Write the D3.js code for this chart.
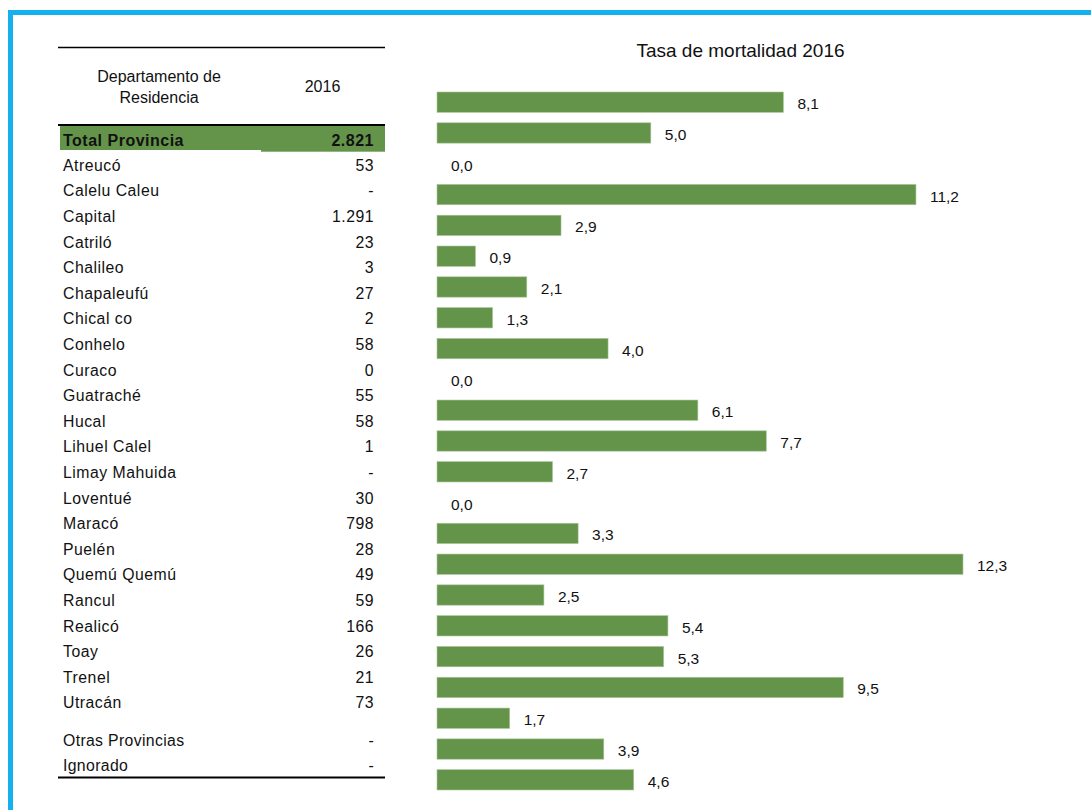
<!DOCTYPE html>
<html>
<head>
<meta charset="utf-8">
<script src="https://cdn.jsdelivr.net/npm/d3@7"></script>
<style>
  html, body { margin: 0; padding: 0; background: #ffffff; }
  svg { display: block; }
  text { font-family: "Liberation Sans", Arial, sans-serif; fill: #111; }
</style>
</head>
<body>
<svg id="chart" width="1091" height="810"></svg>
<script>
// Table rows: department of residence and deaths in 2016
const totalLabel = "Total Provincia";
const totalDeaths = "2.821";
const departments = [
  "Atreucó", "Calelu Caleu", "Capital", "Catriló", "Chalileo", "Chapaleufú",
  "Chical co", "Conhelo", "Curaco", "Guatraché", "Hucal", "Lihuel Calel",
  "Limay Mahuida", "Loventué", "Maracó", "Puelén", "Quemú Quemú", "Rancul",
  "Realicó", "Toay", "Trenel", "Utracán"
];
const deaths = [
  "53", "-", "1.291", "23", "3", "27", "2", "58", "0", "55", "58", "1",
  "-", "30", "798", "28", "49", "59", "166", "26", "21", "73"
];
const otherRows = ["Otras Provincias", "Ignorado"];
const otherDeaths = ["-", "-"];

// Mortality rate 2016, one bar per row (total first, then departments)
const rateCategories = [totalLabel].concat(departments);
const rates = [
  8.1, 5.0, 0.0, 11.2, 2.9, 0.9, 2.1, 1.3, 4.0, 0.0, 6.1, 7.7,
  2.7, 0.0, 3.3, 12.3, 2.5, 5.4, 5.3, 9.5, 1.7, 3.9, 4.6
];

const headerTitle = ["Departamento de", "Residencia"];
const headerYear = "2016";
const chartTitle = "Tasa de mortalidad 2016";

const svg = d3.select("#chart");
const green = "#64944a";
const fmt = v => d3.format(".1f")(v).replace(".", ",");

// Blue frame
svg.append("rect")
  .attr("x", 10.5).attr("y", 12.5)
  .attr("width", 1200).attr("height", 900)
  .attr("fill", "none")
  .attr("stroke", "#14b1ee")
  .attr("stroke-width", 5);

// ---------- Table ----------
const tableLeft = 58, tableRight = 385;
const nameX = 63, valueX = 374;
const table = svg.append("g");

table.append("line")
  .attr("x1", tableLeft).attr("x2", tableRight)
  .attr("y1", 47.5).attr("y2", 47.5)
  .attr("stroke", "#000").attr("stroke-width", 1.7);

table.append("text")
  .attr("x", 159).attr("y", 81.5)
  .attr("text-anchor", "middle")
  .style("font-size", "16px")
  .selectAll("tspan").data(headerTitle).join("tspan")
  .attr("x", 159)
  .attr("dy", (d, i) => i === 0 ? 0 : 21.7)
  .text(d => d);

table.append("text")
  .attr("x", 322.5).attr("y", 91.5)
  .attr("text-anchor", "middle")
  .style("font-size", "16px")
  .text(headerYear);

// Total row highlight
table.append("rect")
  .attr("x", 60).attr("y", 125)
  .attr("width", 201).attr("height", 25)
  .attr("fill", green);
table.append("rect")
  .attr("x", 261).attr("y", 125)
  .attr("width", tableRight - 261).attr("height", 26.7)
  .attr("fill", green);

table.append("line")
  .attr("x1", tableLeft).attr("x2", tableRight)
  .attr("y1", 125).attr("y2", 125)
  .attr("stroke", "#000").attr("stroke-width", 2);

table.append("text")
  .attr("x", nameX).attr("y", 146)
  .style("font-size", "16px").style("font-weight", "bold")
  .style("letter-spacing", "0.5px")
  .text(totalLabel);
table.append("text")
  .attr("x", valueX).attr("y", 146)
  .attr("text-anchor", "end")
  .style("font-size", "16px").style("font-weight", "bold")
  .style("letter-spacing", "0.5px")
  .text(totalDeaths);

// Department rows
const rowY = d3.scalePoint()
  .domain(departments)
  .range([170.7, 708.3]);

const rows = table.selectAll("g.row")
  .data(departments.map((d, i) => ({ name: d, value: deaths[i] })))
  .join("g").attr("class", "row")
  .attr("transform", d => `translate(0,${rowY(d.name)})`);
rows.append("text")
  .attr("x", nameX)
  .style("font-size", "15.8px").style("letter-spacing", "0.5px")
  .text(d => d.name);
rows.append("text")
  .attr("x", valueX).attr("text-anchor", "end")
  .style("font-size", "15.8px").style("letter-spacing", "0.5px")
  .text(d => d.value);

const otherY = d3.scalePoint()
  .domain(otherRows)
  .range([745.7, 770.7]);
const others = table.selectAll("g.other")
  .data(otherRows.map((d, i) => ({ name: d, value: otherDeaths[i] })))
  .join("g").attr("class", "other")
  .attr("transform", d => `translate(0,${otherY(d.name)})`);
others.append("text")
  .attr("x", nameX)
  .style("font-size", "15.8px").style("letter-spacing", "0.35px")
  .text(d => d.name);
others.append("text")
  .attr("x", valueX).attr("text-anchor", "end")
  .style("font-size", "15.8px").style("letter-spacing", "0.35px")
  .text(d => d.value);

table.append("line")
  .attr("x1", tableLeft).attr("x2", tableRight)
  .attr("y1", 777.5).attr("y2", 777.5)
  .attr("stroke", "#000").attr("stroke-width", 2);

// ---------- Bar chart ----------
const barLeft = 437;
const x = d3.scaleLinear().domain([0, 12.3]).range([barLeft, 963]);
const y = d3.scaleBand()
  .domain(rateCategories)
  .range([92, 790])
  .paddingInner(0.34)
  .paddingOuter(0);

const bars = svg.append("g");
const barData = rateCategories.map((c, i) => ({ cat: c, v: rates[i] }));

bars.selectAll("rect")
  .data(barData.filter(d => d.v > 0))
  .join("rect")
  .attr("x", x(0))
  .attr("y", d => y(d.cat))
  .attr("width", d => x(d.v) - x(0))
  .attr("height", y.bandwidth())
  .attr("fill", green)
  .attr("stroke", "#a8c698")
  .attr("stroke-width", 0.6);

bars.selectAll("text")
  .data(barData)
  .join("text")
  .attr("x", d => x(d.v) + 14)
  .attr("y", d => y(d.cat) + y.bandwidth() / 2 + 7)
  .style("font-size", "15.5px")
  .text(d => fmt(d.v));

svg.append("text")
  .attr("x", 740.5).attr("y", 56.5)
  .attr("text-anchor", "middle")
  .style("font-size", "19px")
  .text(chartTitle);
</script>
</body>
</html>
